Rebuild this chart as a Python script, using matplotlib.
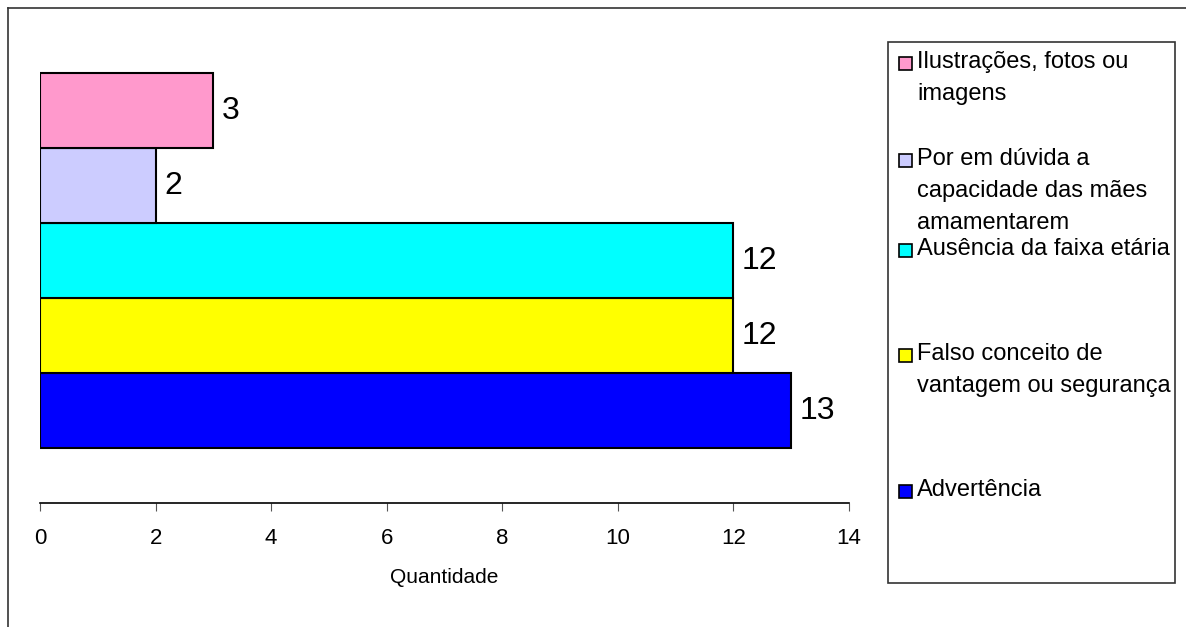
import matplotlib.pyplot as plt
from matplotlib.patches import Rectangle
from matplotlib.lines import Line2D

plt.rcParams['font.family'] = ['Liberation Sans']

# categorias (de baixo para cima) e quantidades
categorias = ['Advertência',
              'Falso conceito de\nvantagem ou segurança',
              'Ausência da faixa etária',
              'Por em dúvida a\ncapacidade das mães\namamentarem',
              'Ilustrações, fotos ou\nimagens']
valores = [13, 12, 12, 2, 3]
cores = ['#0000FF', '#FFFF00', '#00FFFF', '#CCCCFF', '#FF99CC']
xticks = [0, 2, 4, 6, 8, 10, 12, 14]

W, H = 1186, 627
fig = plt.figure(figsize=(W / 100, H / 100), dpi=100)
ax = fig.add_axes([40 / W, 1 - 503 / H, (849 - 40) / W, (503 - 20) / H])

pos = list(range(len(valores)))
ax.barh(pos, valores, height=1.0, color=cores, edgecolor='black', linewidth=1.5)
for p, v in zip(pos, valores):
    ax.text(v + 0.15, p, str(v), va='center', ha='left', fontsize=23)

ax.set_xlim(0, 14)
ax.set_ylim(-1.23, 5.21)
ax.set_xticks(xticks)
ax.tick_params(axis='x', direction='out', length=6, labelsize=16, pad=12,
               color='#555555')
ax.set_yticks([])
for s in ['top', 'right', 'left']:
    ax.spines[s].set_visible(False)
ax.spines['bottom'].set_linewidth(1.2)
ax.set_xlabel('Quantidade', fontsize=15, labelpad=14)

# moldura externa
fig.add_artist(Line2D([8 / W, 1.0], [1 - 8 / H] * 2, color='#333333', lw=1.2))
fig.add_artist(Line2D([8 / W] * 2, [0, 1 - 8 / H], color='#333333', lw=1.2))

# legenda
fig.add_artist(Rectangle((888 / W, 1 - 583 / H), (1175 - 888) / W, (583 - 42) / H,
                         fill=False, edgecolor='#333333', lw=1.2))
leg_y = [63, 160, 250, 355, 491]  # centro da primeira linha de cada item
for i in range(len(categorias)):
    y = leg_y[len(categorias) - 1 - i]
    fig.add_artist(Rectangle((899 / W, 1 - (y + 7) / H), 13 / W, 13 / H,
                             facecolor=cores[i], edgecolor='black', lw=1.2))
    fig.text(917 / W, 1 - (y - 12) / H, categorias[i], fontsize=17, va='top',
             ha='left', linespacing=1.6)

fig.savefig('out.png', dpi=100)
